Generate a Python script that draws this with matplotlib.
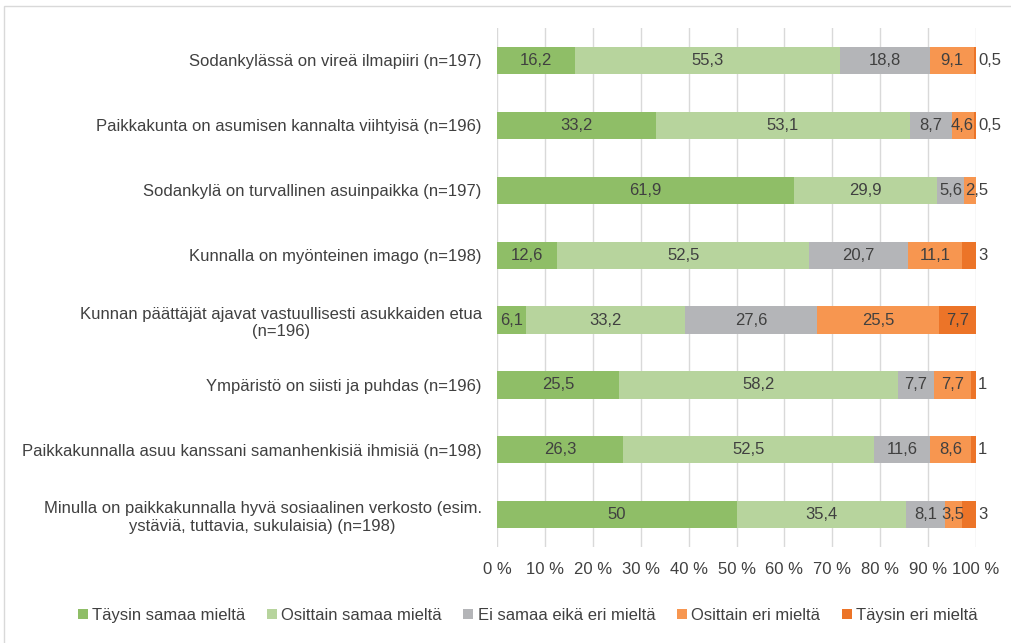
import matplotlib.pyplot as plt
from matplotlib.patches import Rectangle

plt.rcParams['font.family'] = ['Liberation Sans', 'DejaVu Sans']

# Statements (top to bottom)
categories = [
    'Sodankylässä on vireä ilmapiiri (n=197)',
    'Paikkakunta on asumisen kannalta viihtyisä (n=196)',
    'Sodankylä on turvallinen asuinpaikka (n=197)',
    'Kunnalla on myönteinen imago (n=198)',
    'Kunnan päättäjät ajavat vastuullisesti asukkaiden etua\n(n=196)',
    'Ympäristö on siisti ja puhdas (n=196)',
    'Paikkakunnalla asuu kanssani samanhenkisiä ihmisiä (n=198)',
    'Minulla on paikkakunnalla hyvä sosiaalinen verkosto (esim.\nystäviä, tuttavia, sukulaisia) (n=198)',
]

series_names = ['Täysin samaa mieltä', 'Osittain samaa mieltä',
                'Ei samaa eikä eri mieltä', 'Osittain eri mieltä',
                'Täysin eri mieltä']

taysin_samaa = [16.2, 33.2, 61.9, 12.6, 6.1, 25.5, 26.3, 50]
osittain_samaa = [55.3, 53.1, 29.9, 52.5, 33.2, 58.2, 52.5, 35.4]
ei_samaa_eika_eri = [18.8, 8.7, 5.6, 20.7, 27.6, 7.7, 11.6, 8.1]
osittain_eri = [9.1, 4.6, 2.5, 11.1, 25.5, 7.7, 8.6, 3.5]
taysin_eri = [0.5, 0.5, 0, 3, 7.7, 1, 1, 3]

xticks = [0, 10, 20, 30, 40, 50, 60, 70, 80, 90, 100]

colors = ['#8fbe67', '#b7d49d', '#b4b5b8', '#f79650', '#ec7428']
text_col = '#404040'
fs = 12

series = [taysin_samaa, osittain_samaa, ei_samaa_eika_eri, osittain_eri,
          taysin_eri]

fig = plt.figure(figsize=(10.11, 6.43), dpi=100)
# Outer chart border
fig.patches.append(Rectangle((0.004, -0.01), 1.2, 1.0, transform=fig.transFigure,
                             fill=False, edgecolor='#d9d9d9', lw=1))
ax = fig.add_axes([0.4916, 0.149, 0.4738, 0.8075])

n = len(categories)
ypos = list(range(n))
totals = [sum(r) for r in zip(*series)]
left = [0.0] * n
for vals, name, col in zip(series, series_names, colors):
    widths = [v / t * 100 for v, t in zip(vals, totals)]
    ax.barh(ypos, widths, left=left, height=0.42, color=col, label=name,
            zorder=3)
    last = name == series_names[-1]
    for i, (v, w, l) in enumerate(zip(vals, widths, left)):
        if v == 0:
            continue
        lab = ('%g' % v).replace('.', ',')
        if last and v < 5:
            # small end values sit just outside the bar
            ax.text(100.4, i, lab, ha='left', va='center', fontsize=fs,
                    color=text_col, zorder=4)
        elif w < 3:
            # too narrow to centre: start at the segment's left edge
            ax.text(l + 0.3, i, lab, ha='left', va='center', fontsize=fs,
                    color=text_col, zorder=4)
        else:
            ax.text(l + w / 2, i, lab, ha='center', va='center',
                    fontsize=fs, color=text_col, zorder=4)
    left = [a + b for a, b in zip(left, widths)]

ax.set_xlim(0, 100)
ax.set_ylim(n - 0.5, -0.5)
ax.set_xticks(xticks)
ax.set_xticklabels(['%d %%' % t for t in xticks], fontsize=fs,
                   color=text_col)
ax.set_yticks(ypos)
ax.set_yticklabels(categories, fontsize=fs, color=text_col,
                   multialignment='center')
ax.tick_params(length=0)
ax.tick_params(axis='y', pad=11)
ax.tick_params(axis='x', pad=11)
ax.grid(axis='x', color='#d9d9d9', lw=1, zorder=0)
for s in ax.spines.values():
    s.set_visible(False)

fig.legend(loc='center', bbox_to_anchor=(0.522, 0.043), ncol=5, frameon=False,
           fontsize=fs, handlelength=0.6, handleheight=0.6,
           handletextpad=0.25, columnspacing=1.3, labelcolor=text_col)

fig.savefig('out.png', dpi=100)
